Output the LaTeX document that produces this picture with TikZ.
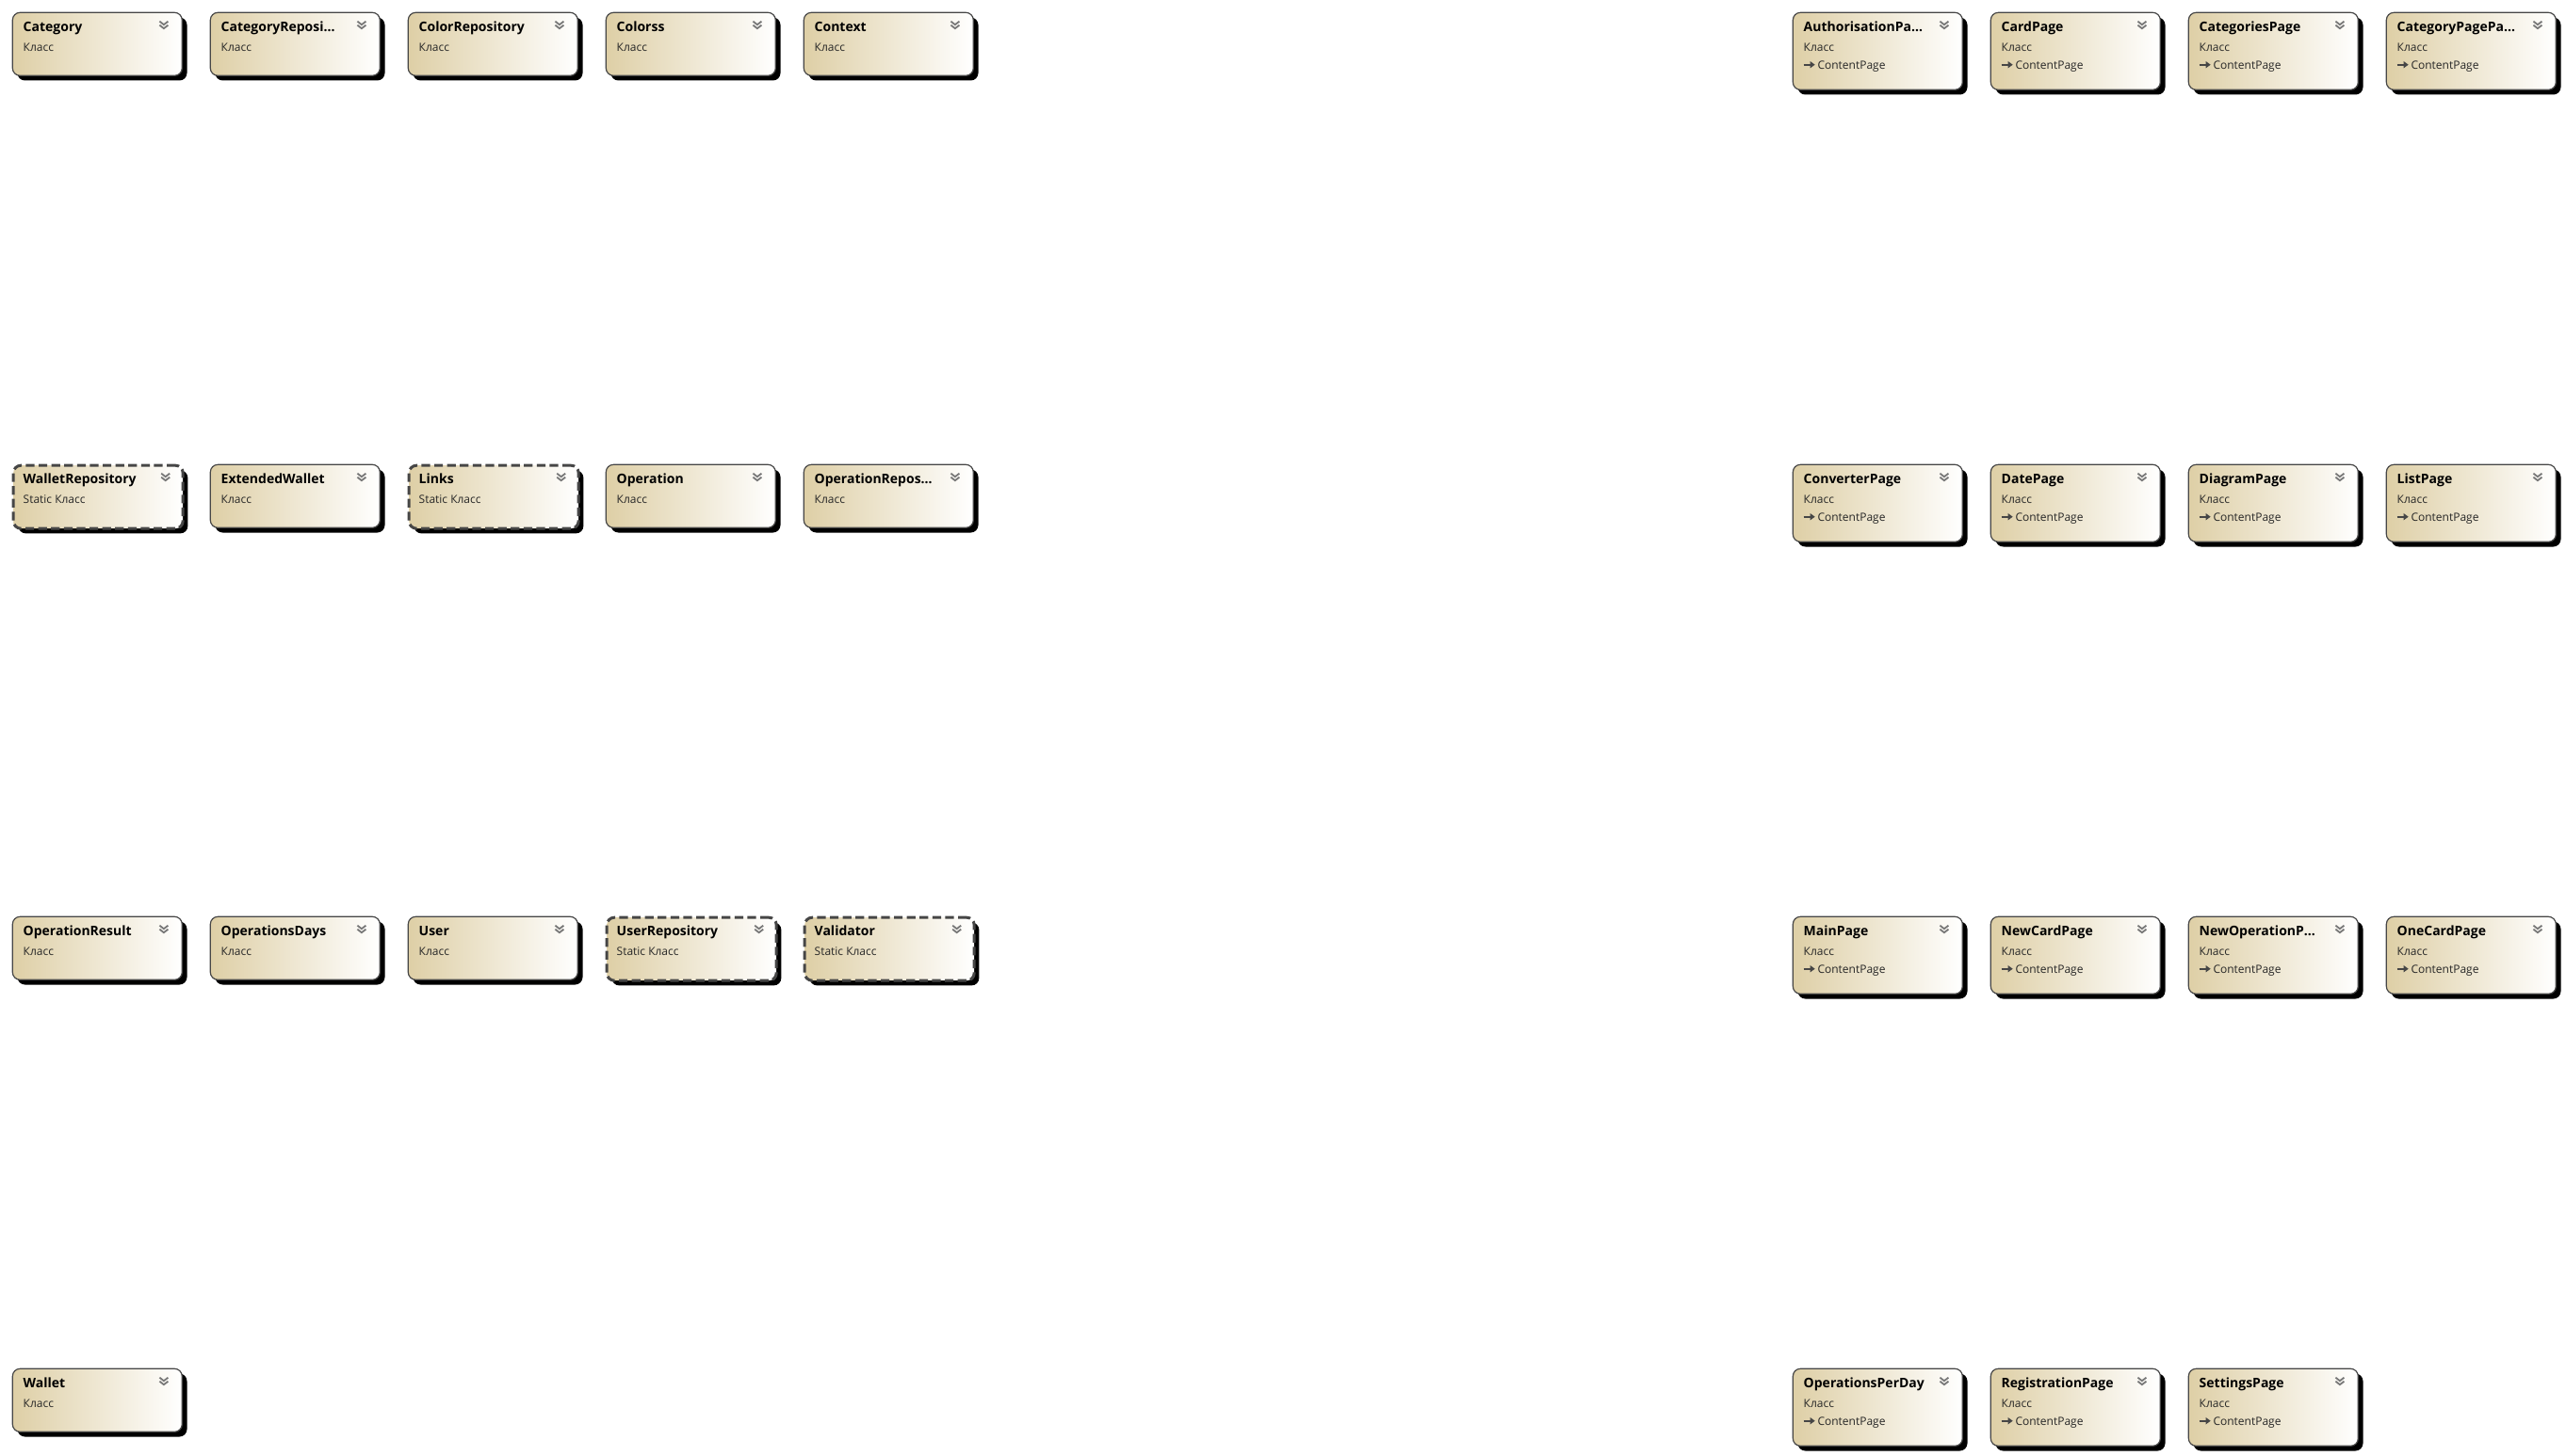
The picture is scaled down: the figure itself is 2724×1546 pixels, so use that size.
\documentclass[tikz,border=0pt]{standalone}
\usepackage{fontspec}
\setmainfont{Open Sans}
\usetikzlibrary{shadows,arrows.meta}

\definecolor{boxtan}{RGB}{222,207,166}
\definecolor{boxline}{RGB}{70,70,70}
\definecolor{chevgray}{RGB}{120,120,120}

\tikzset{
  cls/.style={draw=boxline, line width=0.6pt, rounded corners=4pt,
    left color=boxtan, right color=white, anchor=north west,
    minimum width=90pt, minimum height=33.5pt, inner sep=0pt,
    drop shadow={shadow xshift=2.6pt, shadow yshift=-2.6pt, fill=black, opacity=1}},
  staticcls/.style={cls, dash pattern=on 4.6pt off 2.2pt, line width=1.5pt, draw=boxline},
  pagecls/.style={cls, minimum height=41pt},
  ttl/.style={anchor=base west, inner sep=0pt, font=\fontsize{7}{8}\selectfont\bfseries},
  knd/.style={anchor=base west, inner sep=0pt, font=\fontsize{6}{7}\selectfont, text=black!85},
  chev/.pic={
    \draw[chevgray, line width=0.9pt] (-4.5,0)--(0,3.5)--(4.5,0);
    \draw[chevgray, line width=0.9pt] (-4.5,4)--(0,7.5)--(4.5,4);
  }
}

\begin{document}
\begin{tikzpicture}[x=0.5pt,y=-0.5pt]
\useasboundingbox (0,0) rectangle (2724,1546);
%% left block: plain classes
\foreach \nm/\i/\j/\ttext/\kk/\st in {
  category/0/0/Category/Класс/cls,
  categoryrepo/1/0/CategoryReposi…/Класс/cls,
  colorrepo/2/0/ColorRepository/Класс/cls,
  colorss/3/0/Colorss/Класс/cls,
  context/4/0/Context/Класс/cls,
  walletrepo/0/1/WalletRepository/Static Класс/staticcls,
  extwallet/1/1/ExtendedWallet/Класс/cls,
  links/2/1/Links/Static Класс/staticcls,
  operation/3/1/Operation/Класс/cls,
  operationrepo/4/1/OperationRepos…/Класс/cls,
  opresult/0/2/OperationResult/Класс/cls,
  opdays/1/2/OperationsDays/Класс/cls,
  user/2/2/User/Класс/cls,
  userrepo/3/2/UserRepository/Static Класс/staticcls,
  validator/4/2/Validator/Static Класс/staticcls,
  wallet/0/3/Wallet/Класс/cls}
{
  \node[\st] (\nm) at ({12.7+210*\i},{12.7+480*\j}) {};
  \node[ttl] (\nm-t) at ([shift={(5.8pt,-10.6pt)}]\nm.north west) {\ttext};
  \node[knd] (\nm-k) at ([shift={(5.8pt,-20.9pt)}]\nm.north west) {\kk};
  \pic at ([shift={(-10pt,-5pt)}]\nm.north east) {chev};
}
%% right block: pages
\foreach \nm/\i/\j/\ttext in {
  authpage/0/0/AuthorisationPa…,
  cardpage/1/0/CardPage,
  catspage/2/0/CategoriesPage,
  catpagepage/3/0/CategoryPagePa…,
  convpage/0/1/ConverterPage,
  datepage/1/1/DatePage,
  diagpage/2/1/DiagramPage,
  listpage/3/1/ListPage,
  mainpage/0/2/MainPage,
  newcardpage/1/2/NewCardPage,
  newoppage/2/2/NewOperationP…,
  onecardpage/3/2/OneCardPage,
  opsperday/0/3/OperationsPerDay,
  regpage/1/3/RegistrationPage,
  setpage/2/3/SettingsPage}
{
  \node[pagecls] (\nm) at ({1902.7+210*\i},{12.7+480*\j}) {};
  \node[ttl] (\nm-t) at ([shift={(5.8pt,-10.6pt)}]\nm.north west) {\ttext};
  \node[knd] (\nm-k) at ([shift={(5.8pt,-20.9pt)}]\nm.north west) {Класс};
  \node[knd] (\nm-b) at ([shift={(13.2pt,-30.4pt)}]\nm.north west) {ContentPage};
  \draw[boxline, line width=1pt, -{Triangle[length=2.6pt,width=3.6pt]}]
    ([shift={(6pt,-28pt)}]\nm.north west) -- ([shift={(12pt,-28pt)}]\nm.north west);
  \pic at ([shift={(-10pt,-5pt)}]\nm.north east) {chev};
}
\end{tikzpicture}
\end{document}
